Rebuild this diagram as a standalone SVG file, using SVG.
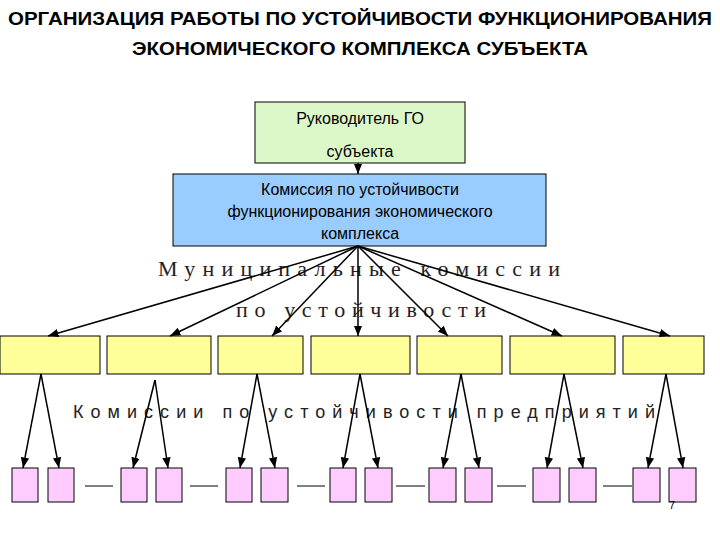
<svg xmlns="http://www.w3.org/2000/svg" width="720" height="540" viewBox="0 0 720 540">
<defs>
<marker id="a" viewBox="0 0 10 10" refX="10" refY="5" markerWidth="7" markerHeight="7" orient="auto"><path d="M0,1 L10,5 L0,9 z" fill="#000"/></marker>
<style>
.y{fill:#ffff99;stroke:#000;stroke-width:1}
.p{fill:#ffccff;stroke:#000;stroke-width:1}
.c line{stroke:#000;stroke-width:1.5;marker-end:url(#a)}
.d line{stroke:#000;stroke-width:1}
.s{font-family:"Liberation Sans",Arial,sans-serif}
.t{font-family:"Liberation Serif","Times New Roman",serif}
</style>
</defs>
<rect width="720" height="540" fill="#fff"/>
<g class="s" font-weight="bold" font-size="18">
<text x="8" y="25" textLength="704" lengthAdjust="spacingAndGlyphs">ОРГАНИЗАЦИЯ РАБОТЫ ПО УСТОЙЧИВОСТИ ФУНКЦИОНИРОВАНИЯ</text>
<text x="132" y="55" textLength="456" lengthAdjust="spacingAndGlyphs">ЭКОНОМИЧЕСКОГО КОМПЛЕКСА СУБЪЕКТА</text>
</g>
<g id="head"><rect x="255" y="102" width="210" height="61" fill="#ddf8c8" stroke="#000"/>
<text class="s" x="360" y="124" font-size="16" text-anchor="middle">Руководитель ГО</text>
<text class="s" x="360" y="157" font-size="16" text-anchor="middle">субъекта</text></g>
<g id="commission"><rect x="173" y="174" width="373" height="72" fill="#99ccff" stroke="#000"/>
<g class="s" font-size="16" text-anchor="middle"><text x="360" y="195">Комиссия по устойчивости</text><text x="360" y="217">функционирования экономического</text><text x="360" y="239">комплекса</text></g></g>
<g class="t" font-size="22" fill="#222">
<text x="158" y="276" textLength="402" lengthAdjust="spacing">Муниципальные комиссии</text>
<text x="236" y="317" textLength="250" lengthAdjust="spacing">по устойчивости</text>
</g>
<text class="s" x="73" y="418" font-size="18" fill="#222" textLength="582" lengthAdjust="spacing">Комиссии  по  устойчивости  предприятий</text>
<g id="mun">
<rect class="y" x="0" y="336" width="100" height="38"/>
<rect class="y" x="107" y="336" width="104" height="38"/>
<rect class="y" x="218" y="336" width="85" height="38"/>
<rect class="y" x="311" y="336" width="99" height="38"/>
<rect class="y" x="417" y="336" width="85" height="38"/>
<rect class="y" x="510" y="336" width="105" height="38"/>
<rect class="y" x="623" y="336" width="81" height="38"/>
</g>
<g id="ent">
<rect class="p" x="12" y="468" width="26" height="34"/><rect class="p" x="48" y="468" width="26" height="34"/>
<rect class="p" x="121" y="468" width="26" height="34"/><rect class="p" x="156" y="468" width="26" height="34"/>
<rect class="p" x="226" y="468" width="26" height="34"/><rect class="p" x="261" y="468" width="27" height="34"/>
<rect class="p" x="330" y="468" width="26" height="34"/><rect class="p" x="365" y="468" width="27" height="34"/>
<rect class="p" x="429" y="468" width="27" height="34"/><rect class="p" x="465" y="468" width="27" height="34"/>
<rect class="p" x="533" y="468" width="27" height="34"/><rect class="p" x="569" y="468" width="27" height="34"/>
<rect class="p" x="633" y="468" width="27" height="34"/><rect class="p" x="669" y="468" width="27" height="34"/>
</g>
<g id="connectors">
<g class="c">
<line x1="358" y1="163" x2="358" y2="174"/>
<line x1="358" y1="246" x2="48" y2="336"/>
<line x1="358" y1="246" x2="170" y2="336"/>
<line x1="358" y1="246" x2="272" y2="336"/>
<line x1="358" y1="246" x2="358" y2="336"/>
<line x1="358" y1="246" x2="448" y2="336"/>
<line x1="358" y1="246" x2="562" y2="336"/>
<line x1="358" y1="246" x2="670" y2="336"/>
<line x1="41" y1="374" x2="23" y2="468"/><line x1="41" y1="374" x2="59" y2="468"/>
<line x1="155" y1="380" x2="133" y2="468"/><line x1="155" y1="380" x2="168" y2="468"/>
<line x1="257" y1="374" x2="240" y2="468"/><line x1="257" y1="374" x2="275" y2="468"/>
<line x1="360" y1="374" x2="343" y2="468"/><line x1="360" y1="374" x2="378" y2="468"/>
<line x1="461" y1="374" x2="443" y2="468"/><line x1="461" y1="374" x2="479" y2="468"/>
<line x1="564" y1="374" x2="547" y2="468"/><line x1="564" y1="374" x2="583" y2="468"/>
<line x1="666" y1="374" x2="648" y2="468"/><line x1="666" y1="374" x2="683" y2="468"/>
</g>
<g class="d">
<line x1="85" y1="486" x2="113" y2="486"/><line x1="190" y1="486" x2="218" y2="486"/>
<line x1="297" y1="486" x2="325" y2="486"/><line x1="396" y1="486" x2="425" y2="486"/>
<line x1="497" y1="486" x2="526" y2="486"/><line x1="603" y1="486" x2="632" y2="486"/>
</g>
</g>
<text class="s" x="669" y="509" font-size="11">7</text>
</svg>
